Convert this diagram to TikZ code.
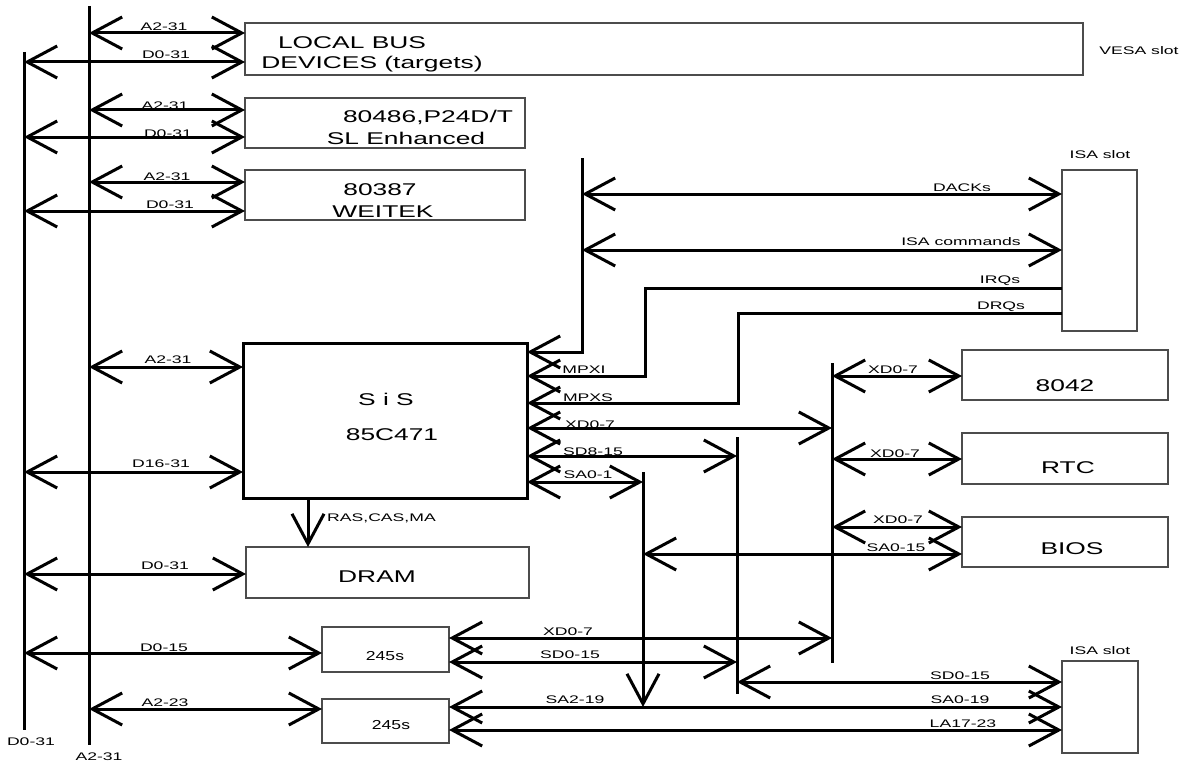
\documentclass[tikz,border=0pt]{standalone}
\usepackage{fontspec}
\setmainfont{Liberation Sans}
\newfontfamily\fsmall[FakeStretch=1.6]{Liberation Sans}
\newfontfamily\fbig[FakeStretch=1.55]{Liberation Sans}
\newfontfamily\fmid[FakeStretch=1.35]{Liberation Sans}
\usetikzlibrary{arrows.meta}
\begin{document}
\begin{tikzpicture}[x=1pt,y=-1pt,
  box/.style={draw=black!70, line width=1.2pt, inner sep=0pt, outer sep=0pt, anchor=north west},
  chip/.style={draw=black, line width=3pt, inner sep=0pt, outer sep=0pt, anchor=north west},
  bus/.style={line width=3pt},
  bi/.style={line width=3pt, {Straight Barb[length=30pt,width=32pt]}-{Straight Barb[length=30pt,width=32pt]}},
  toarr/.style={line width=3pt, -{Straight Barb[length=30pt,width=32pt]}},
  lbl/.style={font=\fsmall\fontsize{11}{13}\selectfont, inner sep=0pt, anchor=base},
  big/.style={font=\fbig\fontsize{17}{20}\selectfont, inner sep=0pt, anchor=base},
  mid/.style={font=\fmid\fontsize{13}{15}\selectfont, inner sep=0pt, anchor=base}]
\useasboundingbox (0,0) rectangle (1185,765);

% boxes
\node[box, minimum width=838pt, minimum height=52pt] (LOCAL) at (245,23) {};
\node[box, minimum width=280pt, minimum height=50pt] (P486) at (245,98) {};
\node[box, minimum width=280pt, minimum height=50pt] (P387) at (245,170) {};
\node[chip, minimum width=284pt, minimum height=155pt] (SIS) at (243,343) {};
\node[box, minimum width=283pt, minimum height=51pt] (DRAM) at (246,547) {};
\node[box, minimum width=127pt, minimum height=45pt] (BA) at (322,627) {};
\node[box, minimum width=127pt, minimum height=44pt] (BB) at (322,699) {};
\node[box, minimum width=75pt, minimum height=161pt] (ISA1) at (1062,170) {};
\node[box, minimum width=76pt, minimum height=92pt] (ISA2) at (1062,661) {};
\node[box, minimum width=206pt, minimum height=50pt] (K8042) at (962,350) {};
\node[box, minimum width=206pt, minimum height=51pt] (RTC) at (962,433) {};
\node[box, minimum width=206pt, minimum height=50pt] (BIOS) at (962,517) {};

% box texts
\node[big] (tL1) at (352,49) {LOCAL BUS};
\node[big] (tL2) at (372,69) {DEVICES (targets)};
\node[big] (t4861) at (428,123) {80486,P24D/T};
\node[big] (t4862) at (406,144) {SL Enhanced};
\node[big] (t3871) at (380,195) {80387};
\node[big] (t3872) at (383,217) {WEITEK};
\node[big] (tS1) at (386,405) {S i S};
\node[big] (tS2) at (392,440) {85C471};
\node[big] (tD) at (377,582) {DRAM};
\node[big] (tK) at (1065,391) {8042};
\node[big] (tR) at (1068,473) {RTC};
\node[big] (tB) at (1072,554) {BIOS};
\node[mid] (tBA) at (385,660) {245s};
\node[mid] (tBB) at (391,729) {245s};
\node[lbl] (tV) at (1139,55) {VESA slot};
\node[lbl] (tI1) at (1100,158) {ISA slot};
\node[lbl] (tI2) at (1100,654) {ISA slot};

% vertical buses
\coordinate (Dt) at (24,52); \coordinate (Db) at (24,730);
\coordinate (At) at (89,6);  \coordinate (Ab) at (89,745);
\draw[bus] (Dt) -- (Db);
\draw[bus] (At) -- (Ab);
\node[lbl] (lDb) at (31,745) {D0-31};
\node[lbl] (lAb) at (99,760) {A2-31};

% ports on the left boxes
\coordinate (pLa) at (245,33);  \coordinate (pLd) at (245,62);
\coordinate (p4a) at (245,110); \coordinate (p4d) at (245,137);
\coordinate (p3a) at (245,182); \coordinate (p3d) at (245,211);
\coordinate (pSa) at (243,367); \coordinate (pSd) at (243,472);
\coordinate (pDd) at (246,574);
\coordinate (pBAd) at (322,653); \coordinate (pBBa) at (322,709);

\draw[bi] (At |- pLa) -- (pLa);  \node[lbl] (l1) at (164,31) {A2-31};
\draw[bi] (Dt |- pLd) -- (pLd);  \node[lbl] (l2) at (166,59) {D0-31};
\draw[bi] (At |- p4a) -- (p4a);  \node[lbl] (l3) at (165,110) {A2-31};
\draw[bi] (Dt |- p4d) -- (p4d);  \node[lbl] (l4) at (168,137) {D0-31};
\draw[bi] (At |- p3a) -- (p3a);  \node[lbl] (l5) at (167,180) {A2-31};
\draw[bi] (Dt |- p3d) -- (p3d);  \node[lbl] (l6) at (170,208) {D0-31};
\draw[bi] (At |- pSa) -- (pSa);  \node[lbl] (l7) at (168,363) {A2-31};
\draw[bi] (Dt |- pSd) -- (pSd);  \node[lbl] (l8) at (161,467) {D16-31};
\draw[bi] (Dt |- pDd) -- (pDd);  \node[lbl] (l9) at (165,569) {D0-31};
\draw[bi] (Dt |- pBAd) -- (pBAd); \node[lbl] (l10) at (164,651) {D0-15};
\draw[bi] (At |- pBBa) -- (pBBa); \node[lbl] (l11) at (165,706) {A2-23};

% RAS,CAS,MA
\coordinate (r0) at (308,498); \coordinate (r1) at (308,547);
\draw[toarr] (r0) -- (r1);
\node[lbl, anchor=base west] (lR) at (327,521) {RAS,CAS,MA};

% upper ISA slot connections
\coordinate (Vt) at (582,158);
\coordinate (s1) at (527,352);
\coordinate (i1) at (1062,194); \coordinate (i2) at (1062,250);
\coordinate (i3) at (1062,288); \coordinate (i4) at (1062,313);
\coordinate (irqbend) at (645,376); \coordinate (s2) at (527,376);
\coordinate (drqbend) at (738,403); \coordinate (s3) at (527,403);
\draw[toarr] (Vt) |- (s1);
\draw[bi] (Vt |- i1) -- (i1); \node[lbl] (lDA) at (962,191) {DACKs};
\draw[bi] (Vt |- i2) -- (i2); \node[lbl] (lIC) at (961,245) {ISA commands};
\draw[toarr] (i3) -| (irqbend) -- (s2); \node[lbl] (lIRQ) at (1000,283) {IRQs};
\draw[toarr] (i4) -| (drqbend) -- (s3); \node[lbl] (lDRQ) at (1001,309) {DRQs};
\node[lbl] (lMI) at (584,373) {MPXI};
\node[lbl] (lMS) at (588,401) {MPXS};

% X, SD, SA buses
\coordinate (Xt) at (832,363);  \coordinate (Xb) at (832,663);
\coordinate (SDt) at (737,437); \coordinate (SDb) at (737,694);
\coordinate (SAt) at (643,472); \coordinate (SAb) at (643,707);
\draw[bus] (Xt) -- (Xb);
\draw[bus] (SDt) -- (SDb);
\draw[toarr] (SAt) -- (SAb);

\coordinate (s4) at (527,428); \coordinate (s5) at (527,456); \coordinate (s6) at (527,482);
\draw[bi] (s4) -- (Xt |- s4);  \node[lbl] (lSX) at (590,428) {XD0-7};
\draw[bi] (s5) -- (SDt |- s5); \node[lbl] (lSSD) at (593,455) {SD8-15};
\draw[bi] (s6) -- (SAt |- s6); \node[lbl] (lSSA) at (588,478) {SA0-1};

% 8042, RTC, BIOS
\coordinate (k1) at (962,376); \coordinate (rt1) at (962,459);
\coordinate (b1) at (962,527); \coordinate (b2) at (962,554);
\draw[bi] (Xt |- k1) -- (k1);  \node[lbl] (lK) at (893,373) {XD0-7};
\draw[bi] (Xt |- rt1) -- (rt1); \node[lbl] (lR2) at (895,457) {XD0-7};
\draw[bi] (Xt |- b1) -- (b1);  \node[lbl] (lB1) at (898,523) {XD0-7};
\draw[bi] (SAt |- b2) -- (b2); \node[lbl] (lB2) at (896,551) {SA0-15};

% bottom buffers and ISA slot
\coordinate (ba1) at (449,638); \coordinate (ba2) at (449,662);
\coordinate (bb1) at (449,707); \coordinate (bb2) at (449,730);
\coordinate (j1) at (1062,682); \coordinate (j2) at (1062,707); \coordinate (j3) at (1062,730);
\draw[bi] (ba1) -- (Xt |- ba1);  \node[lbl] (lX2) at (568,635) {XD0-7};
\draw[bi] (ba2) -- (SDt |- ba2); \node[lbl] (lSD2) at (570,658) {SD0-15};
\draw[bi] (SDt |- j1) -- (j1);   \node[lbl] (lSD3) at (960,679) {SD0-15};
\draw[bi] (bb1) -- (j2);         \node[lbl] (lSA2) at (575,703) {SA2-19};
\node[lbl] (lSA3) at (960,703) {SA0-19};
\draw[bi] (bb2) -- (j3);         \node[lbl] (lLA) at (963,727) {LA17-23};
\end{tikzpicture}
\end{document}
